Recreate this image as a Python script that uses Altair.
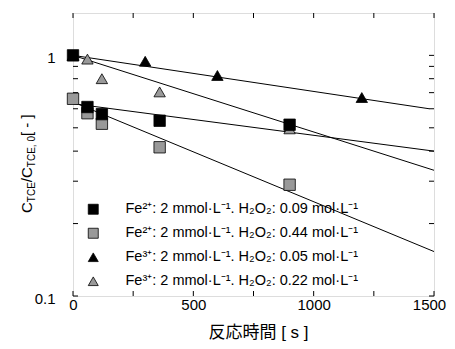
import altair as alt
import pandas as pd

# ---------------- data ----------------
labels = [
    "Fe²⁺: 2 mmol·L⁻¹. H₂O₂: 0.09 mol·L⁻¹",
    "Fe²⁺: 2 mmol·L⁻¹. H₂O₂: 0.44 mol·L⁻¹",
    "Fe³⁺: 2 mmol·L⁻¹. H₂O₂: 0.05 mol·L⁻¹",
    "Fe³⁺: 2 mmol·L⁻¹. H₂O₂: 0.22 mol·L⁻¹",
]
fills = ["black", "#999999", "black", "#999999"]
shapes = ["square", "square", "triangle-up", "triangle-up"]

t_a = [0, 60, 120, 360, 900]
c_a = [1.0, 0.61, 0.57, 0.535, 0.515]
t_b = [0, 60, 120, 360, 900]
c_b = [0.66, 0.575, 0.52, 0.415, 0.29]
t_c = [0, 300, 600, 1200]
c_c = [1.0, 0.945, 0.825, 0.668]
t_d = [0, 60, 120, 360, 900]
c_d = [1.0, 0.965, 0.80, 0.705, 0.495]

fit_t_a = [0, 1500]
fit_c_a = [0.63, 0.40]
fit_t_b = [0, 1500]
fit_c_b = [0.64, 0.153]
fit_t_c = [0, 1480]
fit_c_c = [1.0, 0.60]
fit_t_d = [0, 1500]
fit_c_d = [1.0, 0.333]

x_ticks = [0, 250, 500, 750, 1000, 1250, 1500]
x_labels = [0, 500, 1000, 1500]
y_ticks = [0.1, 0.2, 0.3, 0.4, 0.5, 0.6, 0.7, 0.8, 0.9, 1.0]
y_labels = [0.1, 1.0]

# draw order: gray triangles, black triangles, gray squares, black squares
order = [3, 2, 1, 0]
pt_sets = [(t_a, c_a), (t_b, c_b), (t_c, c_c), (t_d, c_d)]
rows = []
for i in order:
    ts, cs = pt_sets[i]
    for t, c in zip(ts, cs):
        rows.append({"t": t, "c": c, "s": labels[i]})
df_pts = pd.DataFrame(rows)

fit_sets = [(fit_t_a, fit_c_a), (fit_t_b, fit_c_b), (fit_t_c, fit_c_c), (fit_t_d, fit_c_d)]
frows = []
for i, (ts, cs) in enumerate(fit_sets):
    for t, c in zip(ts, cs):
        frows.append({"t": t, "c": c, "s": labels[i]})
df_fit = pd.DataFrame(frows)

df_xt = pd.DataFrame({"v": x_ticks})
df_yt = pd.DataFrame({"v": y_ticks})

# ---------------- layout ----------------
W, H = 361, 283
FONT = "Liberation Sans"

xscale = alt.Scale(domain=[0, 1500], nice=False, zero=False)
yscale = alt.Scale(type="log", domain=[0.1, 1.5], nice=False)

xaxis = alt.Axis(values=x_labels, ticks=False, domain=False, grid=False,
                 labelFont=FONT, labelFontSize=15, labelColor="black",
                 labelPadding=1, labelFlush=False, format="d",
                 labelOffset=alt.expr("datum.value >= 1500 ? -5 : 0"),
                 title="反応時間 [ s ]", titleFont="Liberation Sans, Noto Sans CJK JP",
                 titleFontSize=17, titleFontWeight="normal", titleColor="black",
                 titlePadding=12, titleX=185, titleAlign="center")
yaxis = alt.Axis(values=y_labels, ticks=False, domain=False, grid=False,
                 labelFont=FONT, labelFontSize=15, labelColor="black",
                 labelPadding=18, labelFlush=False, labelOffset=2,
                 labelExpr="datum.value >= 1 ? '1' : '0.1'", title=None)

X = alt.X("t:Q", scale=xscale, axis=xaxis)
Y = alt.Y("c:Q", scale=yscale, axis=yaxis)

legend = alt.Legend(title=None, orient="none", legendX=13, legendY=189,
                    labelFont=FONT, labelFontSize=14.5, labelColor="black",
                    symbolSize=100, symbolStrokeWidth=0.8,
                    rowPadding=9, labelOffset=25, padding=0, labelLimit=400)

fit = alt.Chart(df_fit).mark_line(color="black", strokeWidth=1).encode(
    x=X, y=Y, detail="s:N")

pts = alt.Chart(df_pts).mark_point(filled=True, size=130, strokeWidth=0.8, opacity=1).encode(
    x=X, y=Y,
    fill=alt.Fill("s:N", scale=alt.Scale(domain=labels, range=fills), legend=legend, sort=labels),
    shape=alt.Shape("s:N", scale=alt.Scale(domain=labels, range=shapes), legend=legend, sort=labels),
    stroke=alt.Stroke("s:N", scale=alt.Scale(domain=labels, range=["black"] * 4), legend=legend, sort=labels),
)

xt_bot = alt.Chart(df_xt).mark_rule(color="black", strokeWidth=1).encode(
    x=alt.X("v:Q", scale=xscale, axis=xaxis), y=alt.value(H), y2=alt.value(H - 5))
xt_top = alt.Chart(df_xt).mark_rule(color="black", strokeWidth=1).encode(
    x=alt.X("v:Q", scale=xscale, axis=xaxis), y=alt.value(0), y2=alt.value(5))
yt_left = alt.Chart(df_yt).mark_rule(color="black", strokeWidth=1).encode(
    y=alt.Y("v:Q", scale=yscale, axis=yaxis), x=alt.value(0), x2=alt.value(5))
yt_right = alt.Chart(df_yt).mark_rule(color="black", strokeWidth=1).encode(
    y=alt.Y("v:Q", scale=yscale, axis=yaxis), x=alt.value(W), x2=alt.value(W - 5))

# y-axis title with subscripts, built from text pieces (rotated)
adv = {"C": .722, "T": .611, "E": .667, "/": .278, ",": .278, " ": .278,
       "0": .556, "[": .278, "-": .333, "]": .278}
pieces = [("C", 15, False), ("TCE", 10, True), ("/C", 15, False),
          ("TCE, 0", 10, True), ("  [ - ]", 15, False)]
total = sum(sum(adv[ch] for ch in txt) * fs for txt, fs, _ in pieces)
center_y = (H / 2) + 5
cur = center_y + total / 2
title_layers = []
for txt, fs, sub in pieces:
    title_layers.append(
        alt.Chart(alt.Data(values=[{}])).mark_text(
            angle=270, align="left", baseline="alphabetic", font=FONT,
            fontSize=fs, color="black").encode(
            x=alt.value(-38 if sub else -41), y=alt.value(cur), text=alt.value(txt))
    )
    cur -= sum(adv[ch] for ch in txt) * fs

chart = alt.layer(fit, xt_bot, xt_top, yt_left, yt_right, pts, *title_layers).properties(
    width=W, height=H,
    autosize=alt.AutoSizeParams(type="none"),
    padding={"left": 65, "top": 5, "right": 13, "bottom": 45},
).configure_view(stroke="black", strokeWidth=1).configure(background="white")

chart.save("out.html", embed_options={"renderer": "svg", "actions": False})
